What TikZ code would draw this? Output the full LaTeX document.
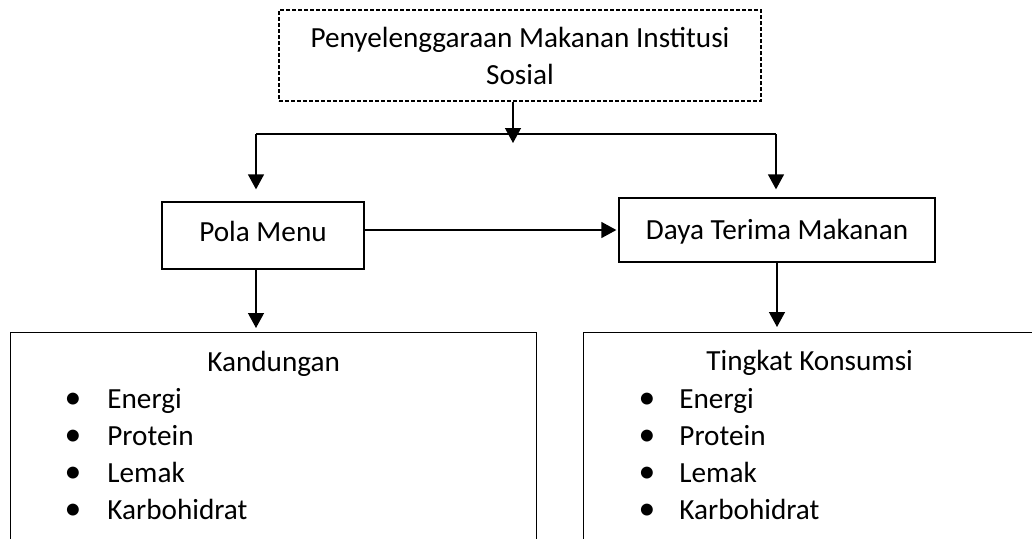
\documentclass[tikz,border=0pt]{standalone}
\usepackage{fontspec}
\setmainfont{Carlito}
\usetikzlibrary{calc,positioning,arrows.meta}

\begin{document}
\begin{tikzpicture}[
    x=0.5pt,y=-0.5pt,
    font=\fontsize{14.6}{18.5}\selectfont,
    box/.style={rectangle,draw,line width=0.65pt,inner sep=0pt,align=center},
    listbox/.style={box,minimum width=263pt,minimum height=130pt,anchor=north west},
    entry/.style={anchor=base west,inner sep=0pt},
    arr/.style={-{Triangle[length=7.5pt,width=8pt]},line width=0.65pt}
]
    \clip (0,0) rectangle (1032,538);

    \node[box,dashed,dash pattern=on 1.8pt off 1.2pt,minimum width=241pt,minimum height=45.5pt] (sumber) at (520,55.5) {Penyelenggaraan Makanan Institusi\\Sosial};
    \node[box,minimum width=101pt,minimum height=33.5pt,text depth=4.5pt] (pola) at (263,235.5) {Pola Menu};
    \node[box,minimum width=158pt,minimum height=32pt,text depth=1pt] (daya) at (777,230) {Daya Terima Makanan};
    \node[listbox] (kand) at (10,332) {};
    \node[listbox,minimum width=226pt] (kons) at (583,332) {};

    % isi kotak bawah
    \node[entry,anchor=base] (kandj) at ($(kand.north)+(0,39)$) {Kandungan};
    \node[entry,anchor=base] (konsj) at ($(kons.north)+(0,38)$) {Tingkat Konsumsi};
    \foreach \t [count=\i] in {Energi,Protein,Lemak,Karbohidrat} {
        \pgfmathsetmacro\yy{76+37.3*(\i-1)}
        \node[entry,anchor=base,scale=1.15] (kb\i) at ($(kand.north west)+(63,\yy)$) {\textbullet};
        \node[entry] (kt\i) at ($(kand.north west)+(97,\yy)$) {\t};
        \node[entry,anchor=base,scale=1.15] (sb\i) at ($(kons.north west)+(64,\yy)$) {\textbullet};
        \node[entry] (st\i) at ($(kons.north west)+(96,\yy)$) {\t};
    }

    \coordinate (tengah) at (513,143);
    \coordinate (kiri) at (256,134);
    \coordinate (kanan) at (776,134);

    \draw[arr] (sumber.south -| tengah) -- (tengah);
    \draw[line width=0.65pt] (kiri) -- (kanan);
    \draw[arr,shorten >=6pt] (kiri) -- (kiri |- pola.north);
    \draw[arr,shorten >=4pt] (kanan) -- (kanan |- daya.north);
    \draw[arr,shorten >=1pt] (pola.east |- daya.west) -- (daya.west);
    \draw[arr,shorten >=2pt] (kiri |- pola.south) -- (kiri |- kand.north);
    \draw[arr,shorten >=2.5pt] (daya.south) -- (daya.south |- kons.north);
\end{tikzpicture}
\end{document}
